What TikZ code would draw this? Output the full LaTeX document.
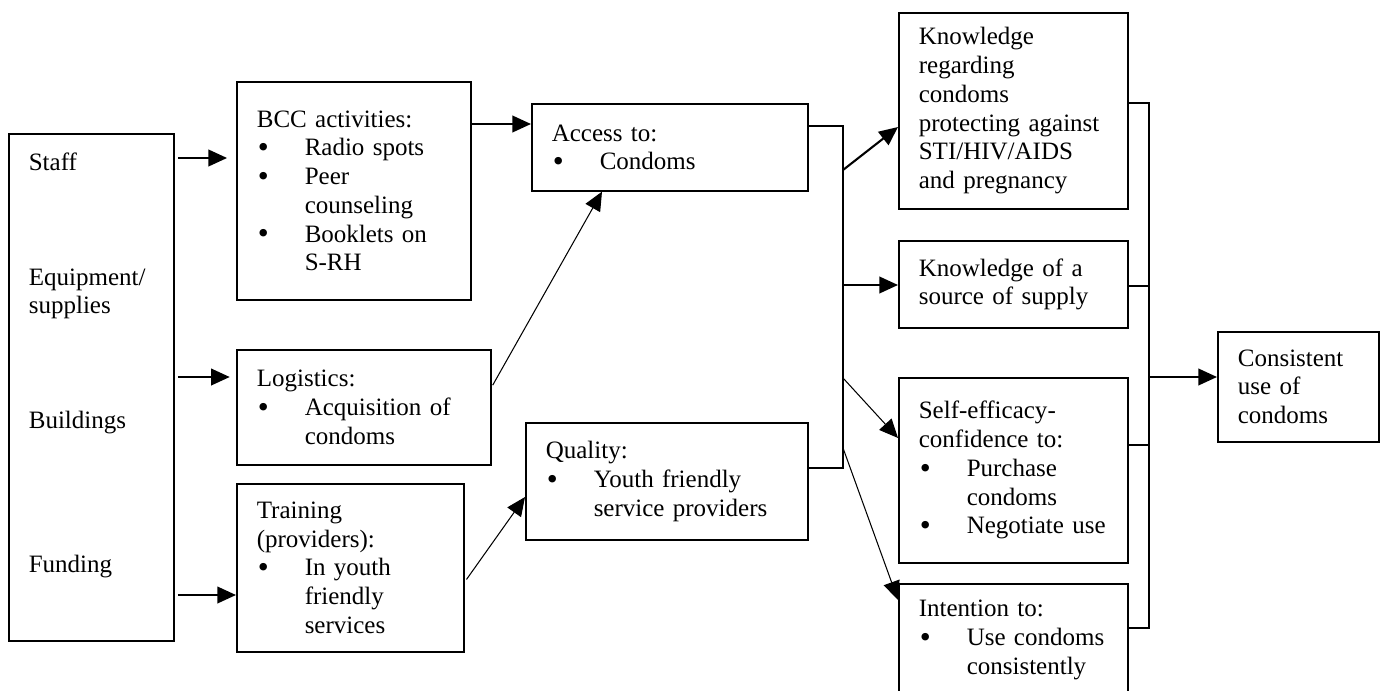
\documentclass[tikz,border=0pt]{standalone}
\usepackage{fontspec}
\setmainfont{Liberation Serif}
\usetikzlibrary{arrows.meta}
% bullet line with hanging indent
\newcommand{\bitem}[1]{\par\noindent\hangindent=23pt\hangafter=0\llap{\makebox[23pt][l]{\hspace{0.5pt}\smash{\raisebox{-0.8pt}{\fontsize{15pt}{15pt}\selectfont\textbullet}}}}#1}

\begin{document}
\begin{tikzpicture}[x=0.48pt,y=-0.48pt,
box/.style={draw,line width=0.8pt,anchor=north west,inner xsep=9.6pt,inner ysep=0pt,align=left,font=\fontsize{12pt}{13.8pt}\selectfont},
arr/.style={-{Triangle[length=9pt,width=8pt]},line width=1pt},
tarr/.style={-{Triangle[length=9pt,width=8pt]},line width=0.5pt},
bar/.style={line width=1pt}]
\useasboundingbox (0,0) rectangle (1384,690);

%%%%%%%%%%   inputs
\node[box,text width=60pt,minimum height=243.36pt] (inp) at (8,133) {Staff\\[3\baselineskip]Equipment/\\supplies\\[3\baselineskip]Buildings\\[4\baselineskip]Funding\\[10pt]\mbox{}};

%%%%%%%%%%   activities
\node[box,text width=93.12pt,minimum height=104.64pt] (bcc) at (236,81) {BCC activities:\bitem{Radio spots}\bitem{Peer\newline counseling}\bitem{Booklets on\newline S-RH}\par};
\node[box,text width=102.72pt,minimum height=55.2pt] (logi) at (236,349) {Logistics:\bitem{Acquisition of\newline condoms}\par};
\node[box,text width=89.76pt,minimum height=80.64pt] (train) at (236,483) {Training\\(providers):\bitem{In youth\newline friendly\newline services}\par};

%%%%%%%%%%   outputs
\node[box,text width=113.28pt,minimum height=41.76pt] (acc) at (531,103) {Access to:\bitem{Condoms}\par};
\node[box,text width=116.16pt,minimum height=56.16pt] (qual) at (525,422) {Quality:\bitem{Youth friendly\newline service providers}\par};

%%%%%%%%%%   outcomes
\node[box,text width=90.72pt,minimum height=94.08pt] (know) at (898,12) {Knowledge\\regarding\\condoms\\protecting against\\STI/HIV/AIDS\\and pregnancy};
\node[box,text width=90.72pt,minimum height=41.76pt] (src) at (898,240) {Knowledge of a\\source of supply};
\node[box,text width=90.72pt,minimum height=88.8pt] (self) at (898,377) {Self-efficacy-\\confidence to:\bitem{Purchase\newline condoms}\bitem{Negotiate use}\par};
\node[box,text width=90.72pt,minimum height=53.76pt] (intent) at (898,583) {Intention to:\bitem{Use condoms\newline consistently}\par};

%%%%%%%%%%   impact
\node[box,text width=58.08pt,minimum height=52.8pt] (cons) at (1217,331) {Consistent\\use of\\condoms};

\coordinate (barL) at (843,0);
\coordinate (barR) at (1149,0);

% inputs to activities
\draw[arr,shorten <=1.5pt,shorten >=4.3pt] (inp.east |- 0,158) -- (bcc.west |- 0,158);
\draw[arr,shorten <=1.5pt,shorten >=3pt] (inp.east |- 0,377) -- (logi.west |- 0,377);
\draw[arr,shorten <=1.5pt] (inp.east |- 0,595) -- (train.west |- 0,595);

% activities to outputs
\draw[arr] (bcc.east |- 0,124) -- (acc.west |- 0,124);
\draw[tarr,shorten <=1pt] (logi.east |- 0,387) -- (acc.south -| 602,0);
\draw[tarr,shorten <=1.5pt] (train.east |- 0,582) -- (qual.west |- 0,497);

% outputs to outcomes
\draw[bar] (acc.east |- 0,126) -- (barL |- 0,126) -- (barL |- 0,468) -- (qual.east |- 0,468);
\draw[arr] (barL |- 0,170) -- (know.west |- 0,127);
\draw[arr] (barL |- 0,285) -- (src.west |- 0,285);
\draw[tarr] (barL |- 0,378) -- (self.west |- 0,438);
\draw[tarr] (barL |- 0,448) -- (intent.west |- 0,600);

% outcomes to impact
\draw[bar] (know.east |- 0,103) -- (barR |- 0,103) -- (barR |- 0,628) -- (intent.east |- 0,628);
\draw[bar] (src.east |- 0,286) -- (barR |- 0,286);
\draw[bar] (self.east |- 0,445) -- (barR |- 0,445);
\draw[arr] (barR |- 0,377) -- (cons.west |- 0,377);
\end{tikzpicture}
\end{document}
